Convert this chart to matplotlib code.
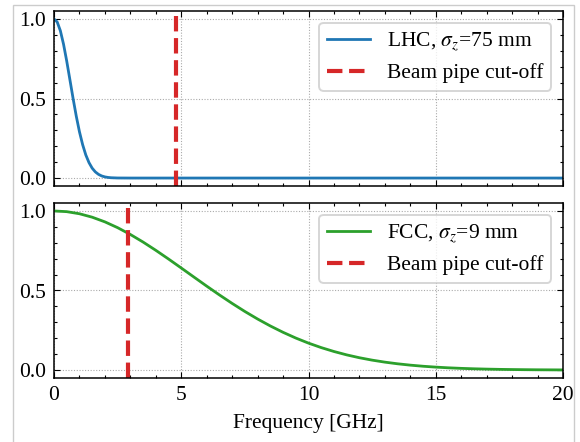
import matplotlib
matplotlib.use("Agg")
import matplotlib.pyplot as plt
from matplotlib.patches import Rectangle
from matplotlib.ticker import MultipleLocator

# Data
lhc_freq = [0, 0.125, 0.25, 0.375, 0.5, 0.625, 0.75, 0.875, 1.0, 1.125, 1.25, 1.375,
            1.5, 1.625, 1.75, 1.875, 2.0, 2.125, 2.25, 2.5, 3.0, 20.0]
lhc_amp = [1.0, 0.981, 0.926, 0.841, 0.735, 0.618, 0.500, 0.389, 0.291, 0.210, 0.145, 0.097,
           0.062, 0.0385, 0.023, 0.0131, 0.0072, 0.0038, 0.0019, 0.0004, 0.0, 0.0]

fcc_freq = [0, 0.5, 1, 1.5, 2, 2.5, 3, 3.5, 4, 4.5, 5, 5.5, 6, 6.5, 7, 7.5, 8, 8.5, 9, 9.5,
            10, 10.5, 11, 11.5, 12, 12.5, 13, 13.5, 14, 14.5, 15, 15.5, 16, 16.5, 17, 17.5,
            18, 18.5, 19, 19.5, 20]
fcc_amp = [1.0, 0.9956, 0.9824, 0.9608, 0.9314, 0.8949, 0.8522, 0.8045, 0.7526, 0.6979,
           0.6414, 0.5843, 0.5275, 0.4721, 0.4188, 0.3681, 0.3208, 0.2771, 0.2372, 0.2012,
           0.1692, 0.1411, 0.1166, 0.0954, 0.0774, 0.0623, 0.0497, 0.0393, 0.0308, 0.0239,
           0.0184, 0.0140, 0.0106, 0.0079, 0.0059, 0.0043, 0.0032, 0.0023, 0.0016, 0.0012,
           0.0008]

lhc_cutoff = 4.8
fcc_cutoff = 2.9

lhc_label = r"LHC, $\sigma_z$=75 mm"
fcc_label = r"FCC, $\sigma_z$=9 mm"
cutoff_label = "Beam pipe cut-off"
xlabel = "Frequency [GHz]"

FS = 15.5
plt.rcParams.update({
    "font.family": ["Liberation Serif", "DejaVu Serif"],
    "mathtext.fontset": "stix",
    "font.size": FS,
    "axes.linewidth": 1.1,
    "xtick.direction": "in",
    "ytick.direction": "in",
    "xtick.top": True,
    "ytick.right": True,
    "xtick.major.size": 4,
    "ytick.major.size": 4,
    "xtick.minor.size": 2.2,
    "ytick.minor.size": 2.2,
    "xtick.major.width": 0.8,
    "ytick.major.width": 0.8,
    "xtick.minor.width": 0.8,
    "ytick.minor.width": 0.8,
    "xtick.major.pad": 6,
    "ytick.major.pad": 6,
    "xtick.minor.visible": True,
    "ytick.minor.visible": True,
})

W, H = 580, 442
fig = plt.figure(figsize=(W / 100, H / 100), dpi=100)

def ax_rect(l, t, r, b):
    return [l / W, 1 - b / H, (r - l) / W, (b - t) / H]

ax1 = fig.add_axes(ax_rect(54, 11, 563, 186))
ax2 = fig.add_axes(ax_rect(54, 203, 563, 378), sharex=ax1)

# light frame around picture
fig.patches.append(Rectangle((13 / W, -0.05), (574 - 13) / W, 1.05 - 4.5 / H,
                             transform=fig.transFigure, fill=False,
                             edgecolor="#cccccc", linewidth=1.0, zorder=-10))

ax1.plot(lhc_freq, lhc_amp, color="#1f77b4", lw=2.0, label=lhc_label)
ax1.axvline(lhc_cutoff, color="#d62728", ls="--", lw=3.0, label=cutoff_label)
ax2.plot(fcc_freq, fcc_amp, color="#2ca02c", lw=2.0, label=fcc_label)
ax2.axvline(fcc_cutoff, color="#d62728", ls="--", lw=3.0, label=cutoff_label)

for ax in (ax1, ax2):
    ax.set_xlim(0, 20)
    ax.set_ylim(-0.05, 1.05)
    ax.set_yticks([0.0, 0.5, 1.0])
    ax.xaxis.set_major_locator(MultipleLocator(5))
    ax.xaxis.set_minor_locator(MultipleLocator(1))
    ax.yaxis.set_minor_locator(MultipleLocator(0.1))
    ax.grid(True, which="major", ls=(0, (1, 1.5)), color="#aaaaaa", lw=0.8)
    leg = ax.legend(loc="upper right", fontsize=FS, fancybox=True, framealpha=0.8,
                    edgecolor="#cccccc", handlelength=2.0, borderpad=0.35,
                    borderaxespad=0.55, labelspacing=0.45)
    leg.get_frame().set_linewidth(1.4)

ax1.tick_params(labelbottom=False)
ax2.set_xlabel(xlabel, labelpad=6)

fig.savefig("out.png", dpi=100)
